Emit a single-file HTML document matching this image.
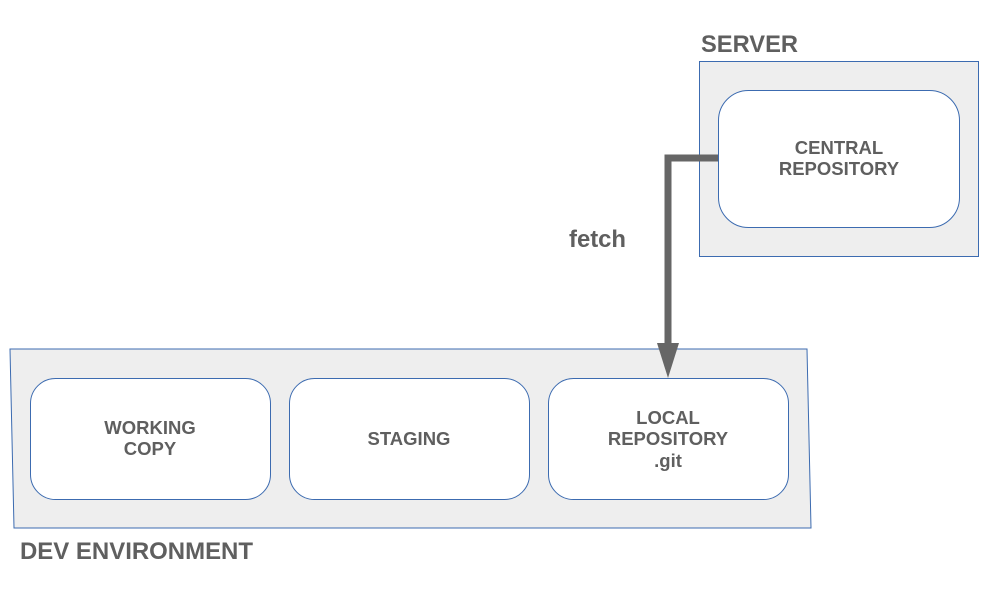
<!DOCTYPE html>
<html><head><meta charset="utf-8"><style>
html,body{margin:0;padding:0;background:#fff;}
svg{display:block;}
text{font-family:"Liberation Sans",sans-serif;font-weight:bold;fill:#5f5f5f;}
</style></head><body>
<svg width="989" height="602" viewBox="0 0 989 602" xmlns="http://www.w3.org/2000/svg">
<polygon points="10,349 807,349 811,528 14,528" fill="#eeeeee" stroke="#3c6bb0" stroke-width="1"/>
<rect x="699.5" y="61.5" width="279" height="195" fill="#eeeeee" stroke="#3c6bb0" stroke-width="1"/>
<rect x="718.5" y="90.5" width="241" height="137" rx="30" fill="#fff" stroke="#3c6bb0" stroke-width="1"/>
<rect x="30.5" y="378.5" width="240" height="121" rx="25" fill="#fff" stroke="#3c6bb0" stroke-width="1"/>
<rect x="289.5" y="378.5" width="240" height="121" rx="25" fill="#fff" stroke="#3c6bb0" stroke-width="1"/>
<rect x="548.5" y="378.5" width="240" height="121" rx="25" fill="#fff" stroke="#3c6bb0" stroke-width="1"/>
<polyline points="718,158 668,158 668,346" fill="none" stroke="#666" stroke-width="7"/>
<polygon points="657,343 679,343 668,378" fill="#666"/>
<text x="701" y="52" font-size="24" textLength="97" lengthAdjust="spacingAndGlyphs">SERVER</text>
<text x="20" y="559" font-size="24" textLength="233" lengthAdjust="spacingAndGlyphs">DEV ENVIRONMENT</text>
<text x="569" y="247" font-size="24" textLength="57" lengthAdjust="spacingAndGlyphs">fetch</text>
<g font-size="18.5" text-anchor="middle">
<text x="839" y="154">CENTRAL</text>
<text x="839" y="175">REPOSITORY</text>
<text x="150" y="434">WORKING</text>
<text x="150" y="455">COPY</text>
<text x="409" y="445">STAGING</text>
<text x="668" y="424">LOCAL</text>
<text x="668" y="445">REPOSITORY</text>
<text x="668" y="467">.git</text>
</g>
</svg>
</body></html>
